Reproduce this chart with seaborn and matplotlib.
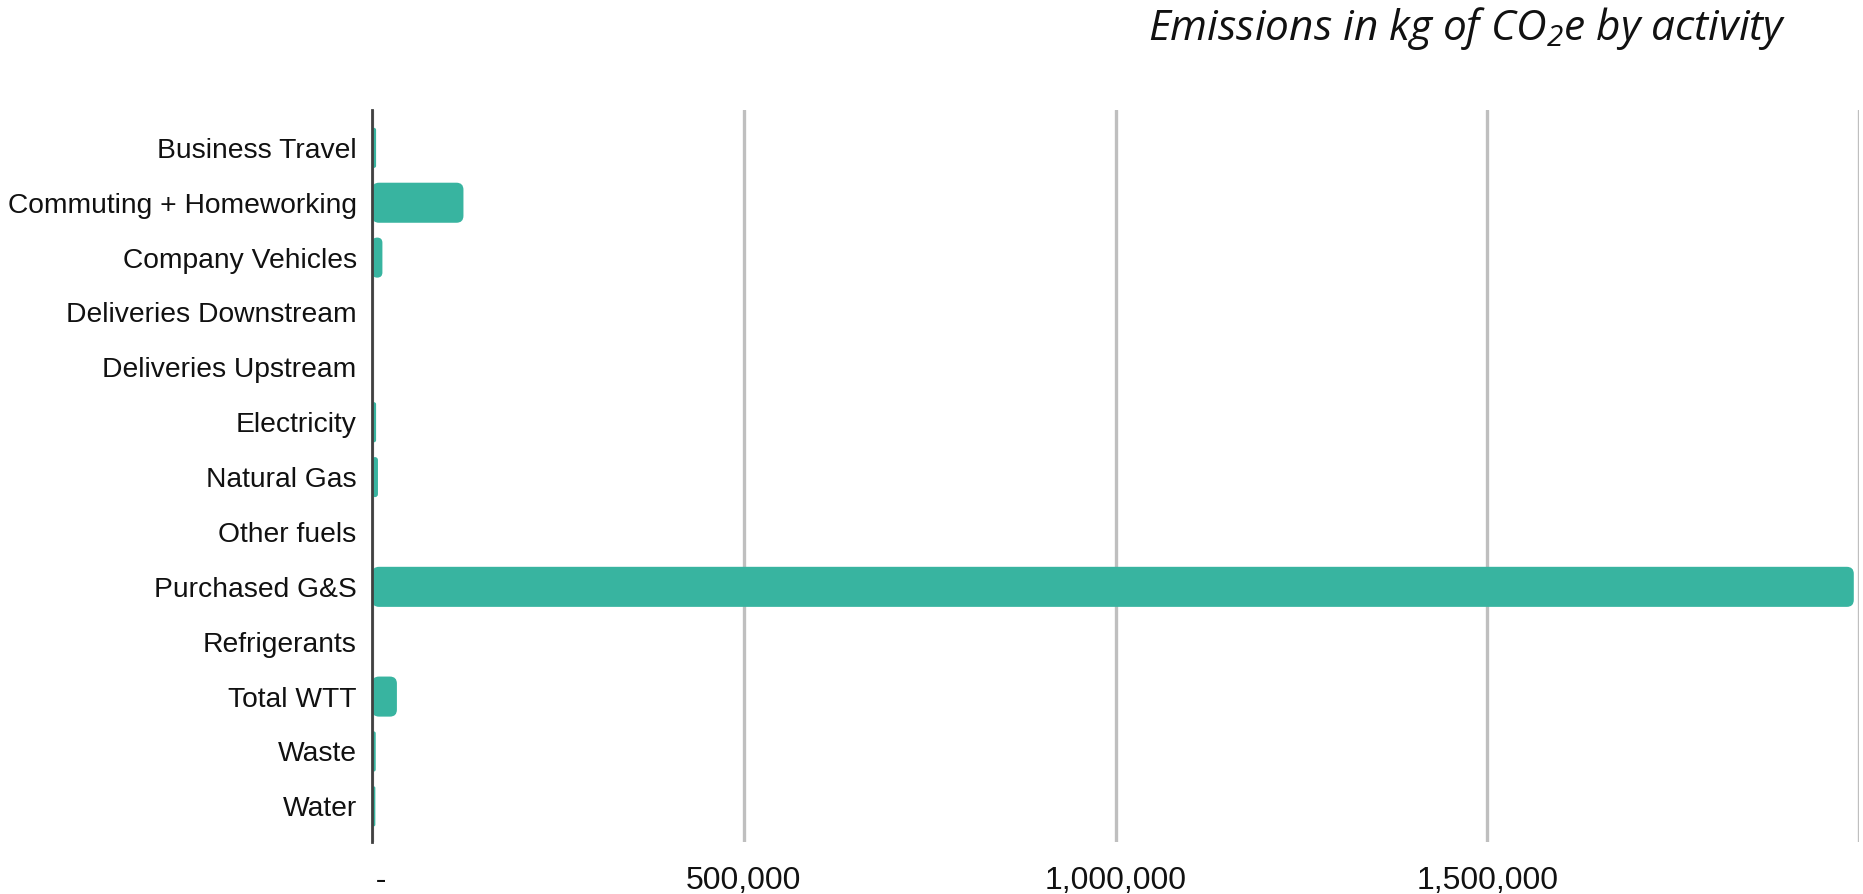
import numpy as np
import pandas as pd
import matplotlib
matplotlib.use("Agg")
import matplotlib.pyplot as plt
import seaborn as sns
from matplotlib.patches import FancyBboxPatch
from matplotlib.ticker import FixedLocator

# ── data (kg CO2e by activity)
categories = [
    "Business Travel", "Commuting + Homeworking", "Company Vehicles",
    "Deliveries Downstream", "Deliveries Upstream", "Electricity",
    "Natural Gas", "Other fuels", "Purchased G&S", "Refrigerants",
    "Total WTT", "Waste", "Water",
]
emissions = [5500, 123000, 14000, 0, 0, 5500, 8000, 0, 1993000, 0, 33500, 5000, 4500]

x_ticks = [0, 500000, 1000000, 1500000, 2000000]
x_ticklabels = ["  -", "500,000", "1,000,000", "1,500,000", ""]

BAR_COLOR = "#38b4a0"
TITLE_FONT = "Open Sans"

df = pd.DataFrame({"activity": categories, "kg": emissions})

sns.set_theme(style="white")
plt.rcParams["font.family"] = ["Liberation Sans", "DejaVu Sans"]
plt.rcParams["mathtext.fontset"] = "custom"
plt.rcParams["mathtext.it"] = f"{TITLE_FONT}:italic"
plt.rcParams["mathtext.rm"] = f"{TITLE_FONT}:italic"

fig = plt.figure(figsize=(18.63, 8.94), dpi=100)
ax = fig.add_axes([372 / 1863, 52 / 894, 1487 / 1863, 732 / 894])

sns.barplot(data=df, y="activity", x="kg", color=BAR_COLOR, width=0.73,
            saturation=1, ax=ax, zorder=3)

ax.set_xlim(0, 2000000)
ax.set_ylim(len(categories) - 1 + 0.65, -0.69)

# swap square bars for rounded ones
y_lo, y_hi = ax.get_ylim()
px_x = 2000000 / 1487
px_y = (y_lo - y_hi) / 732
aspect = px_y / px_x
for p in list(ax.patches):
    x0, y0 = p.get_x(), p.get_y()
    w, h = p.get_width(), p.get_height()
    p.remove()
    if w <= 0:
        continue
    r = min(7 * px_x, w / 2)
    ax.add_patch(FancyBboxPatch(
        (x0, y0), w, h,
        boxstyle=f"round,pad=0,rounding_size={r}",
        mutation_aspect=aspect,
        facecolor=BAR_COLOR, edgecolor="none", zorder=3,
    ))

ax.xaxis.set_major_locator(FixedLocator(x_ticks))
ax.set_xticklabels(x_ticklabels)
ax.grid(axis="x", color="#bfbfbf", linewidth=2.4, zorder=0)
ax.grid(axis="y", visible=False)
for s in ["top", "right", "bottom"]:
    ax.spines[s].set_visible(False)
ax.spines["left"].set_color("#404040")
ax.spines["left"].set_linewidth(2)
ax.spines["left"].set_zorder(4)

ax.tick_params(axis="y", labelsize=20.3, length=0, pad=11, labelcolor="#111111")
ax.tick_params(axis="x", labelsize=23, length=0, pad=17, labelcolor="#111111")
ax.set_xlabel("")
ax.set_ylabel("")

fig.text(1786 / 1863, 1 - 5 / 894, r"Emissions in kg of CO$_2$e by activity",
         ha="right", va="top", fontsize=30.5, fontstyle="italic",
         family=[TITLE_FONT, "DejaVu Sans"], color="#111111")

fig.savefig("out.png", dpi=100, facecolor="white")
plt.close(fig)
